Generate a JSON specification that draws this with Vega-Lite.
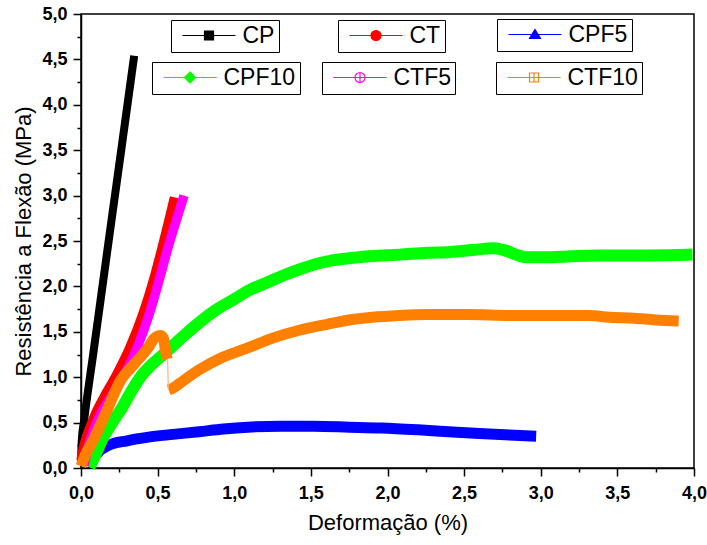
{
  "$schema": "https://vega.github.io/schema/vega-lite/v6.json",
  "width": 613,
  "height": 454,
  "autosize": {"type": "none"},
  "padding": {"left": 81, "top": 14, "right": 13, "bottom": 77},
  "background": "white",
  "data": {"values": [
    {"s":"CP","x":0,"y":0.05},{"s":"CP","x":0.005,"y":0.3},{"s":"CP","x":0.02,"y":0.52},{"s":"CP","x":0.08,"y":1.26},{"s":"CP","x":0.14,"y":2.0},{"s":"CP","x":0.2,"y":2.74},{"s":"CP","x":0.26,"y":3.47},{"s":"CP","x":0.347,"y":4.54},
    {"s":"CT","x":0,"y":0.08},{"s":"CT","x":0.02,"y":0.25},{"s":"CT","x":0.06,"y":0.45},{"s":"CT","x":0.09,"y":0.58},{"s":"CT","x":0.15,"y":0.78},{"s":"CT","x":0.23,"y":1.02},{"s":"CT","x":0.32,"y":1.33},{"s":"CT","x":0.405,"y":1.7},{"s":"CT","x":0.47,"y":2.05},{"s":"CT","x":0.53,"y":2.43},{"s":"CT","x":0.57,"y":2.7},{"s":"CT","x":0.61,"y":2.98},
    {"s":"CPF5","x":0.06,"y":0.01},{"s":"CPF5","x":0.08,"y":0.1},{"s":"CPF5","x":0.11,"y":0.17},{"s":"CPF5","x":0.18,"y":0.25},{"s":"CPF5","x":0.3,"y":0.3},{"s":"CPF5","x":0.44,"y":0.34},{"s":"CPF5","x":0.6,"y":0.37},{"s":"CPF5","x":0.77,"y":0.4},{"s":"CPF5","x":0.93,"y":0.43},{"s":"CPF5","x":1.09,"y":0.45},{"s":"CPF5","x":1.3,"y":0.46},{"s":"CPF5","x":1.52,"y":0.46},{"s":"CPF5","x":1.75,"y":0.45},{"s":"CPF5","x":1.96,"y":0.44},{"s":"CPF5","x":2.2,"y":0.42},{"s":"CPF5","x":2.4,"y":0.4},{"s":"CPF5","x":2.6,"y":0.38},{"s":"CPF5","x":2.83,"y":0.36},{"s":"CPF5","x":2.97,"y":0.35},
    {"s":"CPF10","x":0.055,"y":0.01},{"s":"CPF10","x":0.09,"y":0.13},{"s":"CPF10","x":0.137,"y":0.31},{"s":"CPF10","x":0.2,"y":0.49},{"s":"CPF10","x":0.27,"y":0.67},{"s":"CPF10","x":0.33,"y":0.85},{"s":"CPF10","x":0.4,"y":1.03},{"s":"CPF10","x":0.45,"y":1.12},{"s":"CPF10","x":0.55,"y":1.27},{"s":"CPF10","x":0.66,"y":1.44},{"s":"CPF10","x":0.77,"y":1.6},{"s":"CPF10","x":0.88,"y":1.74},{"s":"CPF10","x":1.0,"y":1.86},{"s":"CPF10","x":1.1,"y":1.96},{"s":"CPF10","x":1.21,"y":2.04},{"s":"CPF10","x":1.32,"y":2.12},{"s":"CPF10","x":1.43,"y":2.19},{"s":"CPF10","x":1.54,"y":2.25},{"s":"CPF10","x":1.65,"y":2.29},{"s":"CPF10","x":1.75,"y":2.31},{"s":"CPF10","x":1.86,"y":2.33},{"s":"CPF10","x":1.97,"y":2.34},{"s":"CPF10","x":2.08,"y":2.35},{"s":"CPF10","x":2.26,"y":2.37},{"s":"CPF10","x":2.41,"y":2.38},{"s":"CPF10","x":2.55,"y":2.4},{"s":"CPF10","x":2.69,"y":2.42},{"s":"CPF10","x":2.76,"y":2.4},{"s":"CPF10","x":2.84,"y":2.35},{"s":"CPF10","x":2.91,"y":2.32},{"s":"CPF10","x":3.05,"y":2.32},{"s":"CPF10","x":3.17,"y":2.33},{"s":"CPF10","x":3.4,"y":2.34},{"s":"CPF10","x":3.7,"y":2.34},{"s":"CPF10","x":3.99,"y":2.35},
    {"s":"CTF5","x":0.02,"y":0.03},{"s":"CTF5","x":0.05,"y":0.25},{"s":"CTF5","x":0.13,"y":0.6},{"s":"CTF5","x":0.2,"y":0.8},{"s":"CTF5","x":0.28,"y":1.02},{"s":"CTF5","x":0.36,"y":1.3},{"s":"CTF5","x":0.45,"y":1.72},{"s":"CTF5","x":0.51,"y":2.07},{"s":"CTF5","x":0.568,"y":2.43},{"s":"CTF5","x":0.62,"y":2.72},{"s":"CTF5","x":0.672,"y":3.0},
    {"s":"CTF10","seg":"a","x":0,"y":0.02},{"s":"CTF10","seg":"a","x":0.03,"y":0.15},{"s":"CTF10","seg":"a","x":0.08,"y":0.31},{"s":"CTF10","seg":"a","x":0.16,"y":0.6},{"s":"CTF10","seg":"a","x":0.26,"y":0.97},{"s":"CTF10","seg":"a","x":0.35,"y":1.15},{"s":"CTF10","seg":"a","x":0.44,"y":1.33},{"s":"CTF10","seg":"a","x":0.48,"y":1.43},{"s":"CTF10","seg":"a","x":0.52,"y":1.46},{"s":"CTF10","seg":"a","x":0.54,"y":1.42},{"s":"CTF10","seg":"a","x":0.55,"y":1.3},{"s":"CTF10","seg":"a","x":0.563,"y":1.2},
    {"s":"CTF10","seg":"link","x":0.565,"y":1.2},{"s":"CTF10","seg":"link","x":0.57,"y":0.86},
    {"s":"CTF10","seg":"b","x":0.572,"y":0.86},{"s":"CTF10","seg":"b","x":0.6,"y":0.88},{"s":"CTF10","seg":"b","x":0.65,"y":0.94},{"s":"CTF10","seg":"b","x":0.77,"y":1.08},{"s":"CTF10","seg":"b","x":0.9,"y":1.2},{"s":"CTF10","seg":"b","x":1.1,"y":1.33},{"s":"CTF10","seg":"b","x":1.25,"y":1.43},{"s":"CTF10","seg":"b","x":1.43,"y":1.52},{"s":"CTF10","seg":"b","x":1.6,"y":1.58},{"s":"CTF10","seg":"b","x":1.75,"y":1.63},{"s":"CTF10","seg":"b","x":1.9,"y":1.66},{"s":"CTF10","seg":"b","x":2.08,"y":1.68},{"s":"CTF10","seg":"b","x":2.26,"y":1.69},{"s":"CTF10","seg":"b","x":2.52,"y":1.69},{"s":"CTF10","seg":"b","x":2.8,"y":1.68},{"s":"CTF10","seg":"b","x":3.1,"y":1.68},{"s":"CTF10","seg":"b","x":3.31,"y":1.68},{"s":"CTF10","seg":"b","x":3.45,"y":1.66},{"s":"CTF10","seg":"b","x":3.61,"y":1.65},{"s":"CTF10","seg":"b","x":3.75,"y":1.63},{"s":"CTF10","seg":"b","x":3.9,"y":1.62}
  ]},
  "encoding": {
    "x": {"field": "x", "type": "quantitative", "scale": {"domain": [0, 4], "nice": false, "zero": false},
      "axis": {"title": "Deformação (%)", "values": [0,0.25,0.5,0.75,1,1.25,1.5,1.75,2,2.25,2.5,2.75,3,3.25,3.5,3.75,4],
        "labelExpr": "round(datum.value*4)%2==0 ? replace(format(datum.value,'.1f'),'.',',') : ''",
        "tickSize": {"condition": {"test": "round(datum.value*4)%2==1", "value": 4}, "value": 8},
        "labelPadding": 8, "titlePadding": 10, "labelFlush": false, "labelOverlap": false}},
    "y": {"field": "y", "type": "quantitative", "scale": {"domain": [0, 5], "nice": false, "zero": false},
      "axis": {"title": "Resistência a Flexão (MPa)", "values": [0,0.25,0.5,0.75,1,1.25,1.5,1.75,2,2.25,2.5,2.75,3,3.25,3.5,3.75,4,4.25,4.5,4.75,5],
        "labelExpr": "round(datum.value*4)%2==0 ? replace(format(datum.value,'.1f'),'.',',') : ''",
        "tickSize": {"condition": {"test": "round(datum.value*4)%2==1", "value": 4}, "value": 8},
        "labelPadding": 6, "titlePadding": 6, "labelFlush": false, "labelOverlap": false}}
  },
  "layer": [
    {"transform": [{"filter": "datum.s === 'CP'"}],
     "mark": {"type": "line", "strokeWidth": 8, "strokeJoin": "round", "interpolate": "monotone"},
     "encoding": {"color": {"field": "s", "type": "nominal", "scale": {"domain": ["CP"], "range": ["#000000"]},
       "legend": {"orient": "none", "legendX": 90, "legendY": 6, "title": null, "symbolType": "M-2.65,0H2.65M-0.45,-0.45H0.45V0.45H-0.45Z", "symbolFillColor": "#000000", "symbolStrokeColor": "#000000", "symbolStrokeWidth": 1.2}}}},
    {"transform": [{"filter": "datum.s === 'CT'"}],
     "mark": {"type": "line", "strokeWidth": 9.5, "strokeJoin": "round", "interpolate": "monotone"},
     "encoding": {"color": {"field": "s", "type": "nominal", "scale": {"domain": ["CT"], "range": ["#FF0000"]},
       "legend": {"orient": "none", "legendX": 257, "legendY": 6, "title": null, "symbolType": "M-2.65,0H2.65M-0.5,0A0.5,0.5 0 1,0 0.5,0A0.5,0.5 0 1,0 -0.5,0Z", "symbolFillColor": "#FF0000", "symbolStrokeColor": "#FF0000", "symbolStrokeWidth": 1.2}}}},
    {"transform": [{"filter": "datum.s === 'CPF5'"}],
     "mark": {"type": "line", "strokeWidth": 11, "strokeJoin": "round", "interpolate": "monotone"},
     "encoding": {"color": {"field": "s", "type": "nominal", "scale": {"domain": ["CPF5"], "range": ["#0000FF"]},
       "legend": {"orient": "none", "legendX": 416, "legendY": 5, "title": null, "symbolType": "M-2.65,0H2.65M0,-0.5L0.55,0.4L-0.55,0.4Z", "symbolFillColor": "#0000FF", "symbolStrokeColor": "#0000FF", "symbolStrokeWidth": 1.2}}}},
    {"transform": [{"filter": "datum.s === 'CPF10'"}],
     "mark": {"type": "line", "strokeWidth": 12, "strokeJoin": "round", "interpolate": "monotone"},
     "encoding": {"color": {"field": "s", "type": "nominal", "scale": {"domain": ["CPF10"], "range": ["#00FF00"]},
       "legend": {"orient": "none", "legendX": 71, "legendY": 48, "title": null, "symbolType": "M-2.65,0H2.65M0,-0.55L0.55,0L0,0.55L-0.55,0Z", "symbolFillColor": "#00FF00", "symbolStrokeColor": "#00FF00", "symbolStrokeWidth": 1.2}}}},
    {"transform": [{"filter": "datum.s === 'CTF5'"}],
     "mark": {"type": "line", "strokeWidth": 9.5, "strokeJoin": "round", "interpolate": "monotone"},
     "encoding": {"color": {"field": "s", "type": "nominal", "scale": {"domain": ["CTF5"], "range": ["#FF00FF"]},
       "legend": {"orient": "none", "legendX": 241, "legendY": 48, "title": null, "symbolType": "M-2.65,0H2.65M-0.5,0A0.5,0.5 0 1,0 0.5,0A0.5,0.5 0 1,0 -0.5,0ZM0,-0.5V0.5", "symbolFillColor": "transparent", "symbolStrokeColor": "#FF00FF", "symbolStrokeWidth": 1.2}}}},
    {"transform": [{"filter": "datum.s === 'CTF10' && datum.seg !== 'link'"}],
     "mark": {"type": "line", "strokeWidth": 11, "strokeJoin": "round", "interpolate": "monotone"},
     "encoding": {"detail": {"field": "seg"}, "color": {"field": "s", "type": "nominal", "scale": {"domain": ["CTF10"], "range": ["#FF8000"]},
       "legend": {"orient": "none", "legendX": 415, "legendY": 48, "title": null, "symbolType": "M-2.65,0H2.65M-0.45,-0.45H0.45V0.45H-0.45ZM0,-0.45V0.45", "symbolFillColor": "transparent", "symbolStrokeColor": "#FF9A40", "symbolStrokeWidth": 1.2}}}},
    {"transform": [{"filter": "datum.seg === 'link'"}],
     "mark": {"type": "line", "strokeWidth": 1.2, "color": "#FFB27A"},
     "encoding": {}}
  ],
  "resolve": {"scale": {"color": "independent"}, "legend": {"color": "independent"}},
  "config": {
    "view": {"stroke": "black", "strokeWidth": 1.5},
    "axis": {"grid": false, "labelFont": "Liberation Sans", "labelFontSize": 18, "labelFontWeight": "bold", "labelColor": "black",
      "titleFont": "Liberation Sans", "titleFontSize": 22, "titleFontWeight": "normal", "titleColor": "black",
      "domainColor": "black", "domainWidth": 1.5, "tickColor": "black", "tickWidth": 1.5},
    "legend": {"labelFont": "Liberation Sans", "labelFontSize": 23, "labelColor": "black", "symbolSize": 400, "symbolOffset": 22.5, "labelOffset": 22,
      "symbolStrokeWidth": 1.2, "strokeColor": "black", "padding": 4}
  }
}
